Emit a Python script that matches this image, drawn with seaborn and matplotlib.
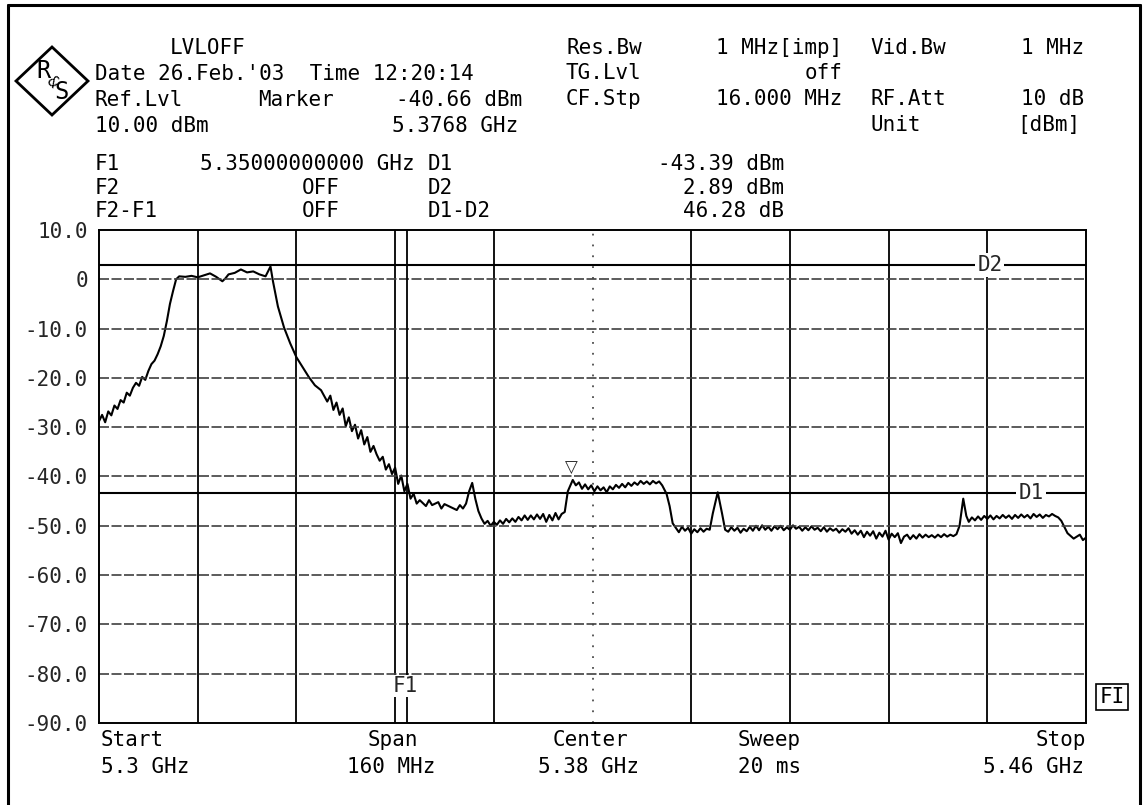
import numpy as np
import pandas as pd
import matplotlib
matplotlib.use("Agg")
import matplotlib.pyplot as plt
import seaborn as sns
from matplotlib.lines import Line2D
from matplotlib.patches import Polygon

sns.set_style("white")
plt.rcParams["font.family"] = ["DejaVu Sans Mono", "DejaVu Sans"]

# trace, in pieces: offset from start (MHz) and level (dBm)
start_ghz = 5.30

rise_off = [0, 0.5, 1, 1.5, 2, 2.5, 3, 3.5, 4, 4.5, 5, 5.5, 6, 6.5,
            7, 7.5, 8, 8.5, 9, 9.5, 10, 10.5, 11, 11.5, 12, 12.5]
rise_lvl = [-28.8, -27.5, -29.0, -26.8, -27.6, -25.6, -26.3, -24.5, -25.0, -23.0, -23.6, -22.0, -21.0, -21.6,
            -19.8, -20.4, -18.6, -17.2, -16.5, -15.2, -13.6, -11.5, -8.5, -5.0, -2.4, 0.0]

top_off = [13, 14, 15, 16, 17, 18, 19, 20, 20.5, 21, 22, 23, 24, 25, 26, 27, 27.8, 28.2]
top_lvl = [0.6, 0.5, 0.7, 0.4, 0.8, 1.2, 0.5, -0.4, 0.2, 1.0, 1.3, 2.0, 1.4, 1.6, 1.0, 0.6, 2.6, -0.4]

fall_off = [29, 30, 31, 32, 33, 34, 35, 36,
            37, 37.5, 38, 38.5, 39, 39.5,
            40, 40.5, 41, 41.5, 42, 42.5, 43, 43.5, 44, 44.5,
            45, 45.5, 46, 46.5, 47, 47.5, 48, 48.5, 49, 49.5,
            50, 50.5, 51, 51.5, 52,
            53, 53.5, 54,
            55, 55.5, 56, 57, 58, 58.5, 59, 59.5]
fall_lvl = [-5.5, -9.8, -13.0, -15.8, -17.8, -19.8, -21.5, -22.5,
            -24.8, -23.6, -26.5, -25.0, -27.5, -26.2,
            -29.8, -28.0, -30.8, -29.5, -32.3, -30.6, -33.5, -32.0, -35.0, -33.8,
            -35.5, -36.8, -36.0, -38.6, -37.5, -39.5, -38.2, -41.5, -39.8, -43.0,
            -41.5, -44.5, -43.5, -45.5, -44.8,
            -46.0, -44.8, -45.8,
            -45.2, -46.5, -45.6, -46.2, -46.8, -45.8, -46.5, -45.5]

spur1_off = [60, 60.5, 61, 61.5]
spur1_lvl = [-43.0, -41.3, -44.5, -47.0]

floor1_off = [62, 62.5, 63, 63.5, 64, 64.5, 65, 65.5, 66, 66.5, 67, 67.5, 68, 68.5,
              69, 69.5, 70, 70.5, 71, 71.5, 72, 72.5, 73, 73.5, 74, 74.5, 75, 75.5]
floor1_lvl = [-48.5, -49.6, -49.0, -50.0, -49.2, -49.8, -48.9, -49.6, -48.6, -49.3, -48.5, -49.2, -48.2, -48.9,
              -47.9, -48.8, -47.9, -48.7, -47.7, -48.6, -47.6, -49.2, -47.8, -48.9, -47.4, -48.7, -47.6, -47.2]

step_off = [76, 76.8,
            77.3, 77.8, 78.3, 78.8, 79.3, 79.8, 80.3, 80.8,
            81.3, 81.8, 82.3, 82.8, 83.3, 83.8, 84.3, 84.8,
            85.3, 85.8, 86.3, 86.8, 87.3, 87.8, 88.3, 88.8,
            89.3, 89.8, 90.3, 90.8, 91.3,
            92, 92.5, 93]
step_lvl = [-43.0, -40.7,
            -41.8, -41.2, -42.5, -41.6, -42.6, -41.8, -43.0, -42.0,
            -42.8, -42.2, -43.2, -42.0, -42.6, -41.7, -42.3, -41.5,
            -42.2, -41.3, -41.9, -41.2, -41.7, -40.9, -41.5, -41.0,
            -41.6, -40.9, -41.4, -41.0, -41.8,
            -43.5, -46.0, -49.5]

floor2_off = [94, 94.5, 95, 95.5, 96, 96.5, 97, 97.5, 98, 98.5, 99]
floor2_lvl = [-51.3, -50.2, -51.0, -50.4, -51.6, -50.7, -51.3, -50.5, -51.2, -50.6, -50.8]

spur2_off = [99.5, 100.3, 101, 101.5]
spur2_lvl = [-47.5, -43.2, -47.5, -50.8]

floor3_off = [102, 102.5, 103, 103.5, 104, 104.5, 105, 105.5, 106, 106.5,
              107, 107.5, 108, 108.5, 109, 109.5, 110, 110.5, 111, 111.5,
              112, 112.5, 113, 113.5, 114, 114.5, 115, 115.5, 116, 116.5,
              117, 117.5, 118, 118.5, 119, 119.5, 120, 120.5, 121, 121.5,
              122, 122.5, 123, 123.5, 124, 124.5, 125, 125.5, 126, 126.5,
              127, 127.5, 128, 128.5, 129, 129.5, 130, 130.5, 131, 131.5,
              132, 132.5, 133, 133.5, 134, 134.5, 135, 135.5, 136, 136.5,
              137, 137.5, 138, 138.5, 139]
floor3_lvl = [-51.2, -50.3, -51.0, -50.4, -51.4, -50.6, -51.1, -50.2, -51.0, -50.0,
              -50.9, -49.9, -50.8, -50.2, -51.0, -50.1, -50.7, -50.0, -50.9, -50.3,
              -50.8, -49.9, -50.6, -50.2, -51.0, -50.3, -50.9, -50.1, -50.8, -50.4,
              -51.1, -50.3, -51.2, -50.5, -51.0, -50.6, -51.4, -50.7, -51.2, -50.5,
              -51.6, -50.9, -51.8, -51.0, -52.3, -51.2, -52.0, -51.1, -52.6, -51.4,
              -52.2, -51.0, -52.8, -51.6, -52.3, -51.5, -53.5, -52.2, -51.8, -52.7,
              -51.9, -52.6, -51.7, -52.4, -51.8, -52.3, -51.9, -52.4, -51.8, -52.3,
              -51.7, -52.2, -51.8, -52.1, -51.7]

spur3_off = [139.5, 140.1, 140.6]
spur3_lvl = [-50.0, -44.5, -48.0]

floor4_off = [141, 141.5, 142, 142.5, 143, 143.5, 144, 144.5, 145, 145.5,
              146, 146.5, 147, 147.5, 148, 148.5, 149, 149.5, 150, 150.5,
              151, 151.5, 152, 152.5, 153, 153.5, 154, 154.5, 155, 155.5, 156]
floor4_lvl = [-49.2, -48.3, -48.9, -48.1, -48.8, -48.0, -48.6, -47.9, -48.7, -48.0,
              -48.5, -47.8, -48.4, -47.9, -48.6, -47.8, -48.4, -47.7, -48.3, -47.8,
              -48.5, -47.6, -48.2, -47.7, -48.4, -47.8, -48.1, -47.6, -48.0, -48.3, -49.0]

tail_off = [157, 158, 159, 159.5, 160]
tail_lvl = [-51.5, -52.6, -51.8, -52.9, -52.4]

d1_level = -43.39
d2_level = 2.89
f1_ghz = 5.35
marker_ghz = 5.3768
y_ticks = [10, 0, -10, -20, -30, -40, -50, -60, -70, -80, -90]
y_labels = ["10.0", "0", "-10.0", "-20.0", "-30.0", "-40.0", "-50.0", "-60.0", "-70.0", "-80.0", "-90.0"]

offs = (rise_off + top_off + fall_off + spur1_off + floor1_off + step_off + floor2_off
        + spur2_off + floor3_off + spur3_off + floor4_off + tail_off)
lvls = (rise_lvl + top_lvl + fall_lvl + spur1_lvl + floor1_lvl + step_lvl + floor2_lvl
        + spur2_lvl + floor3_lvl + spur3_lvl + floor4_lvl + tail_lvl)
df = pd.DataFrame({"freq": [start_ghz + o / 1000 for o in offs], "level": lvls})

W, H = 1146, 805
FS = 15
fig = plt.figure(figsize=(W / 100, H / 100), dpi=100)
fig.patch.set_facecolor("white")

def ftext(x, y, s, ha="left", **kw):
    kw.setdefault("fontsize", FS)
    fig.text(x / W, 1 - y / H, s, ha=ha, va="center", color="black", **kw)

ax = fig.add_axes([99 / W, 1 - 723 / H, 987 / W, 493 / H])
sns.lineplot(data=df, x="freq", y="level", ax=ax, color="black", lw=1.5, sort=False, estimator=None)

ax.set_xlim(5.30, 5.46)
ax.set_ylim(-90, 10)
ax.set_xlabel("")
ax.set_ylabel("")
ax.set_xticks([])
ax.set_yticks(y_ticks)
ax.set_yticklabels(y_labels)
ax.tick_params(axis="y", length=0, pad=8, labelsize=FS)
for s in ax.spines.values():
    s.set_color("black")
    s.set_linewidth(1.4)

# grid: 10 divisions across, 10 dB per division
for i in range(1, 10):
    xv = 5.30 + i * 0.016
    if i == 5:
        ax.axvline(xv, color="0.3", lw=1.3, ls=(0, (1, 5)))
    else:
        ax.axvline(xv, color="black", lw=1.3)
for yv in range(-80, 10, 10):
    ax.axhline(yv, color="0.25", lw=1.2, ls=(0, (6, 1.5)))

ax.axhline(d2_level, color="black", lw=1.5)
ax.axhline(d1_level, color="black", lw=1.5)
ax.axvline(f1_ghz, color="black", lw=1.3)
ax.text(marker_ghz - 0.0003, -38.3, "\u25BD", ha="center", va="center", fontsize=12, family="DejaVu Sans")
ax.text(f1_ghz - 0.0004, -82.5, "F1", ha="center", va="center", fontsize=FS,
        bbox=dict(boxstyle="square,pad=0.05", fc="white", ec="none"))
ax.text(5.4444, d2_level, "D2", ha="center", va="center", fontsize=FS,
        bbox=dict(boxstyle="square,pad=0.1", fc="white", ec="none"))
ax.text(5.4511, d1_level, "D1", ha="center", va="center", fontsize=FS,
        bbox=dict(boxstyle="square,pad=0.1", fc="white", ec="none"))

# header block
ftext(170, 48, "LVLOFF")
ftext(95, 74, "Date 26.Feb.'03  Time 12:20:14")
ftext(95, 100, "Ref.Lvl")
ftext(258, 100, "Marker")
ftext(522, 100, "-40.66 dBm", ha="right")
ftext(95, 126, "10.00 dBm")
ftext(518, 126, "5.3768 GHz", ha="right")
ftext(95, 164, "F1")
ftext(200, 164, "5.35000000000 GHz")
ftext(428, 164, "D1")
ftext(784, 164, "-43.39 dBm", ha="right")
ftext(95, 188, "F2")
ftext(302, 188, "OFF")
ftext(428, 188, "D2")
ftext(784, 188, "2.89 dBm", ha="right")
ftext(95, 211, "F2-F1")
ftext(302, 211, "OFF")
ftext(428, 211, "D1-D2")
ftext(784, 211, "46.28 dB", ha="right")

ftext(566, 48, "Res.Bw")
ftext(842, 48, "1 MHz[imp]", ha="right")
ftext(870, 48, "Vid.Bw")
ftext(1084, 48, "1 MHz", ha="right")
ftext(566, 73, "TG.Lvl")
ftext(842, 73, "off", ha="right")
ftext(566, 99, "CF.Stp")
ftext(842, 99, "16.000 MHz", ha="right")
ftext(870, 99, "RF.Att")
ftext(1084, 99, "10 dB", ha="right")
ftext(870, 125, "Unit")
ftext(1080, 125, "[dBm]", ha="right")

# footer
ftext(101, 740, "Start")
ftext(101, 767, "5.3 GHz")
ftext(393, 740, "Span", ha="center")
ftext(391, 767, "160 MHz", ha="center")
ftext(590, 740, "Center", ha="center")
ftext(588, 767, "5.38 GHz", ha="center")
ftext(738, 740, "Sweep")
ftext(738, 767, "20 ms")
ftext(1086, 740, "Stop", ha="right")
ftext(1084, 767, "5.46 GHz", ha="right")
ftext(1112, 697, "FI", ha="center",
      bbox=dict(boxstyle="square,pad=0.15", fc="white", ec="black", lw=1.2))

# R&S logo
cx, cy, rx, ry = 52, 81, 36, 34
diamond = [(cx - rx, cy), (cx, cy - ry), (cx + rx, cy), (cx, cy + ry)]
fig.patches.append(Polygon([(x / W, 1 - y / H) for x, y in diamond], closed=True, fill=False,
                           ec="black", lw=2.0, transform=fig.transFigure, figure=fig))
ftext(43, 71, "R", ha="center", fontsize=17)
ftext(52, 82, "&", ha="center", fontsize=11, rotation=-45)
ftext(62, 92, "S", ha="center", fontsize=17)

# page border
for xs, ys in [((8, 8), (5, 805)), ((8, 1140), (5, 5)), ((1140, 1140), (5, 805))]:
    fig.lines.append(Line2D([x / W for x in xs], [1 - y / H for y in ys], color="black", lw=2.2,
                            transform=fig.transFigure, figure=fig))

fig.savefig("out.png", dpi=100, facecolor="white")
